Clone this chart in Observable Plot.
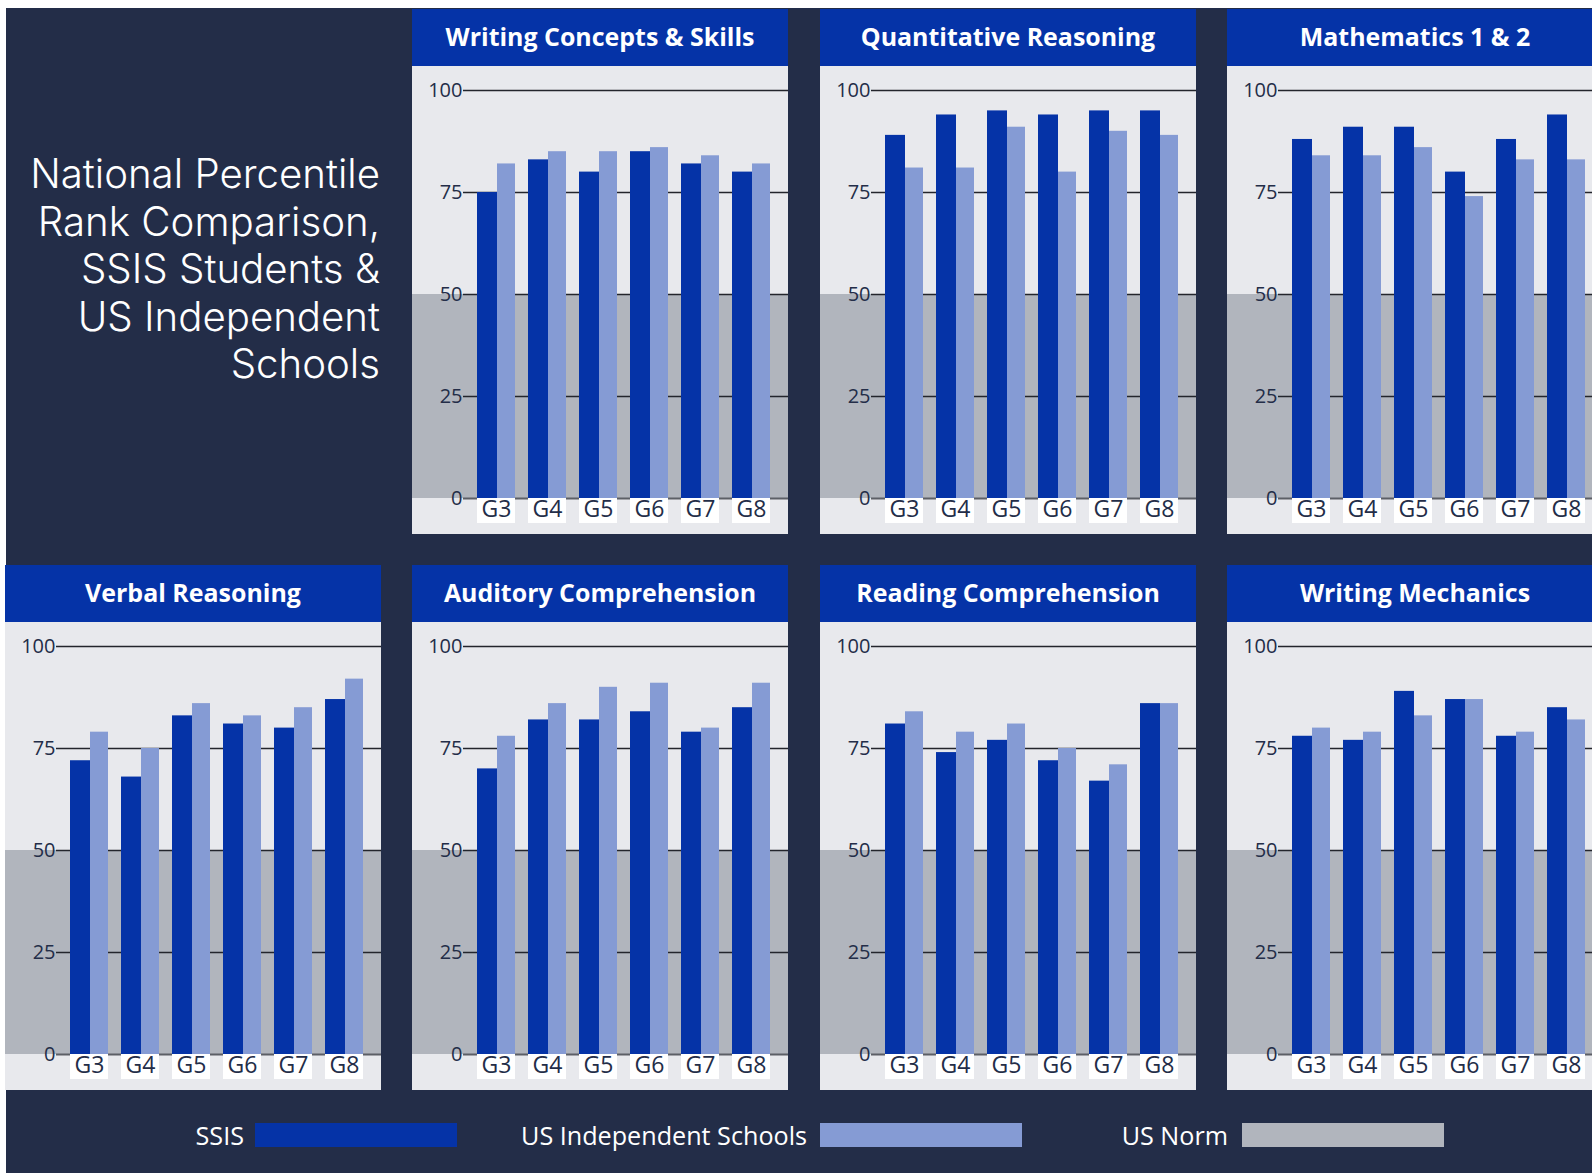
<!DOCTYPE html>
<html>
<head>
<meta charset="utf-8">
<script src="https://cdn.jsdelivr.net/npm/d3@7"></script>
<script src="https://cdn.jsdelivr.net/npm/@observablehq/plot@0.6"></script>
<style>
  html, body { margin: 0; padding: 0; background: #ffffff; width: 1592px; height: 1173px; overflow: hidden; }
  #bg { position: absolute; left: 6px; top: 8px; width: 1700px; height: 1300px; background: #232d48; }
  .panel { position: absolute; width: 376px; }
  .hdr { height: 53px; padding-bottom: 4px; background: #0533a7; color: #ffffff; display: flex; align-items: center; justify-content: center;
         font-family: "Open Sans", sans-serif; font-weight: 700; white-space: nowrap; }
  .panel svg { display: block; }
  #overlay { position: absolute; left: 0; top: 0; }
</style>
</head>
<body>
<div id="bg"></div>
<div id="root"></div>
<script>
// ---------- data ----------
const grades = ["G3", "G4", "G5", "G6", "G7", "G8"];
const yTicks = [0, 25, 50, 75, 100];
const usNormLevel = 50;
const seriesNames = ["SSIS", "US Independent Schools", "US Norm"];

const subjWritingConcepts = "Writing Concepts & Skills";
const ssisWritingConcepts = [75, 83, 80, 85, 82, 80];
const usWritingConcepts   = [82, 85, 85, 86, 84, 82];

const subjQuantitative = "Quantitative Reasoning";
const ssisQuantitative = [89, 94, 95, 94, 95, 95];
const usQuantitative   = [81, 81, 91, 80, 90, 89];

const subjMathematics = "Mathematics 1 & 2";
const ssisMathematics = [88, 91, 91, 80, 88, 94];
const usMathematics   = [84, 84, 86, 74, 83, 83];

const subjVerbal = "Verbal Reasoning";
const ssisVerbal = [72, 68, 83, 81, 80, 87];
const usVerbal   = [79, 75, 86, 83, 85, 92];

const subjAuditory = "Auditory Comprehension";
const ssisAuditory = [70, 82, 82, 84, 79, 85];
const usAuditory   = [78, 86, 90, 91, 80, 91];

const subjReading = "Reading Comprehension";
const ssisReading = [81, 74, 77, 72, 67, 86];
const usReading   = [84, 79, 81, 75, 71, 86];

const subjWritingMech = "Writing Mechanics";
const ssisWritingMech = [78, 77, 89, 87, 78, 85];
const usWritingMech   = [80, 79, 83, 87, 79, 82];

const titleLines = ["National Percentile", "Rank Comparison,", "SSIS Students &", "US Independent", "Schools"];

// ---------- styles ----------
const COL_SSIS = "#0533a7";
const COL_US = "#859bd4";
const COL_NORM = "#b1b5bd";
const COL_PANEL = "#e8e9ed";
const COL_TEXT = "#232d48";
const seriesColors = [COL_SSIS, COL_US, COL_NORM];
const FONT = "'Open Sans', sans-serif";
const TITLE_FONT = "Inter, 'Open Sans', sans-serif";

const canvas = document.createElement("canvas");
const ctx = canvas.getContext("2d");
function fitSize(text, weight, targetWidth, family) {
  ctx.font = `${weight} 100px ${family}`;
  return 100 * targetWidth / ctx.measureText(text).width;
}
const hdrSize = fitSize(subjWritingConcepts, 700, 309, FONT);
const titleSize = fitSize(titleLines[0], 300, 350, TITLE_FONT);
const legendSize = fitSize(seriesNames[1], 400, 286, FONT);

const root = document.getElementById("root");

function panel(name, ssisVals, usVals, left, top) {
  const rows = grades.map((g, i) => ({grade: g, ssis: ssisVals[i], us: usVals[i]}));
  const div = document.createElement("div");
  div.className = "panel";
  div.style.left = left + "px";
  div.style.top = top + "px";
  const hdr = document.createElement("div");
  hdr.className = "hdr";
  hdr.style.fontSize = hdrSize + "px";
  hdr.textContent = name;
  div.appendChild(hdr);
  const svg = Plot.plot({
    width: 376,
    height: 468,
    marginLeft: 51,
    marginRight: 0,
    marginTop: 24,
    marginBottom: 36,
    style: {background: COL_PANEL, fontFamily: FONT, color: COL_TEXT},
    x: {domain: grades, paddingInner: 0.258, paddingOuter: 0.303, align: 0.42, axis: null},
    y: {domain: [0, 100], axis: null},
    marks: [
      Plot.rect([usNormLevel], {y1: 0, y2: d => d, fill: COL_NORM, insetLeft: -51}),
      Plot.ruleY(yTicks.filter(t => t > 0), {stroke: "#23252c", strokeWidth: 1.5}),
      Plot.ruleY([0], {stroke: "#5c5f66", strokeWidth: 2}),
      Plot.barY(rows, {x: "grade", y: "us", fill: COL_US, insetLeft: 20}),
      Plot.barY(rows, {x: "grade", y: "ssis", fill: COL_SSIS, insetRight: 18}),
      Plot.barY(grades, {x: d => d, y1: 0, y2: 0, fill: "#ffffff", insetBottom: -25}),
      Plot.axisY({ticks: yTicks, tickSize: 0, tickPadding: 1, fontSize: 20, label: null}),
      Plot.axisX({tickSize: 0, tickPadding: 2, fontSize: 23, label: null})
    ]
  });
  div.appendChild(svg);
  root.appendChild(div);
}

panel(subjWritingConcepts, ssisWritingConcepts, usWritingConcepts, 412, 9);
panel(subjQuantitative, ssisQuantitative, usQuantitative, 820, 9);
panel(subjMathematics, ssisMathematics, usMathematics, 1227, 9);
panel(subjVerbal, ssisVerbal, usVerbal, 5, 565);
panel(subjAuditory, ssisAuditory, usAuditory, 412, 565);
panel(subjReading, ssisReading, usReading, 820, 565);
panel(subjWritingMech, ssisWritingMech, usWritingMech, 1227, 565);

// ---------- title & legend (overlay svg) ----------
const titleBaselines = [188, 235.5, 283, 330.5, 378];
const legendTextRight = [244, 807, 1228];
const legendSwatchX = [255, 820, 1242];

const ov = d3.select("body").append("svg").attr("id", "overlay").attr("width", 1592).attr("height", 1173);
ov.selectAll("text.title").data(titleLines).join("text")
  .attr("class", "title")
  .attr("x", 380).attr("y", (d, i) => titleBaselines[i])
  .attr("text-anchor", "end")
  .attr("fill", "#ffffff")
  .style("font-family", TITLE_FONT).style("font-weight", 300).style("font-size", titleSize + "px")
  .text(d => d);

const lg = ov.selectAll("g.lg").data(seriesNames).join("g").attr("class", "lg");
lg.append("text")
  .attr("x", (d, i) => legendTextRight[i]).attr("y", 1135)
  .attr("text-anchor", "end").attr("dominant-baseline", "central")
  .attr("fill", "#ffffff")
  .style("font-family", FONT).style("font-size", legendSize + "px")
  .text(d => d);
lg.append("rect")
  .attr("x", (d, i) => legendSwatchX[i]).attr("y", 1123)
  .attr("width", 202).attr("height", 24)
  .attr("fill", (d, i) => seriesColors[i]);
</script>
</body>
</html>
